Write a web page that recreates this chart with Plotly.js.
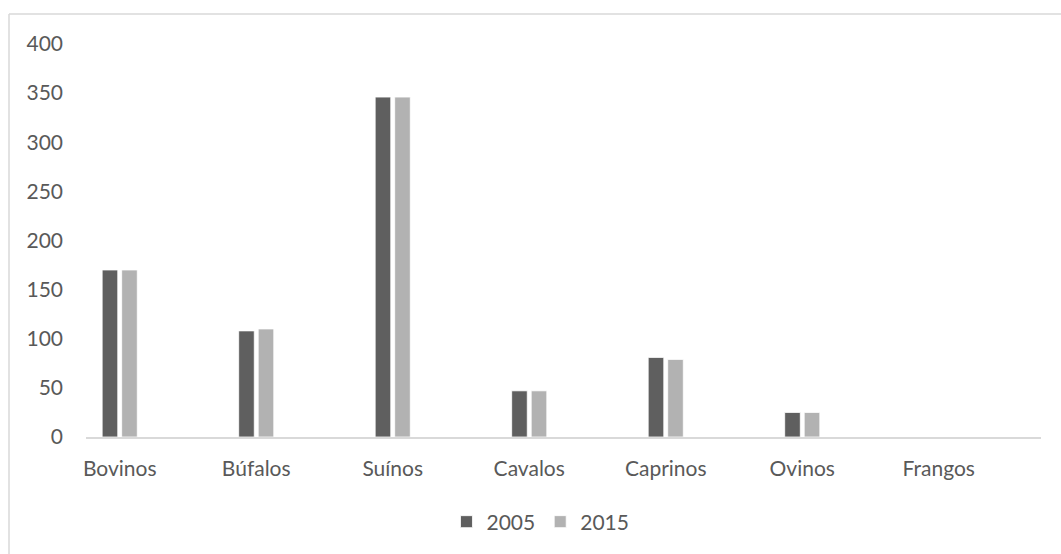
<!DOCTYPE html>
<html>
<head>
<meta charset="utf-8">
<script src="https://cdn.plot.ly/plotly-3.0.1.min.js"></script>
<style>
  html, body { margin: 0; padding: 0; background: #ffffff; }
  #chart { width: 1061px; height: 554px; }
</style>
</head>
<body>
<div id="chart"></div>
<script>
// Rebanhos por espécie, 2005 e 2015
const categories = ["Bovinos", "Búfalos", "Suínos", "Cavalos", "Caprinos", "Ovinos", "Frangos"];
const values2005 = [170, 108, 346, 47, 81, 25, 0];
const values2015 = [170, 110, 346, 47, 79, 25, 0];
const seriesNames = ["2005", "2015"];
const yTicks = [0, 50, 100, 150, 200, 250, 300, 350, 400];

const textColor = "#595959";
const frameColor = "#d9d9d9";
const font = { family: "Lato, 'Open Sans', sans-serif", size: 21, color: textColor };

const traces = [
  {
    type: "bar", name: seriesNames[0], x: categories, y: values2005,
    marker: { color: "#5f5f5f", line: { color: "#ffffff", width: 0.8 } },
    hoverinfo: "x+y+name"
  },
  {
    type: "bar", name: seriesNames[1], x: categories, y: values2015,
    marker: { color: "#b2b2b2", line: { color: "#ffffff", width: 0.8 } },
    hoverinfo: "x+y+name"
  }
];

const layout = {
  width: 1061, height: 554,
  margin: { l: 86, r: 20, t: 44, b: 116.5, pad: 0 },
  paper_bgcolor: "#ffffff", plot_bgcolor: "#ffffff",
  font: font,
  barmode: "group",
  bargap: 0.714,
  bargroupgap: 0.2,
  showlegend: true,
  legend: {
    orientation: "h", x: 0.5094, xanchor: "center", xref: "container",
    y: 32 / 554, yanchor: "middle", yref: "container",
    font: font, itemwidth: 30, tracegroupgap: 0
  },
  xaxis: {
    type: "category",
    range: [-0.247, 6.749],
    showline: true, linecolor: frameColor, linewidth: 1.5,
    showgrid: false, zeroline: false,
    ticks: "", ticklabelstandoff: 12,
    tickfont: font, fixedrange: true
  },
  yaxis: {
    range: [0, 400],
    tickvals: yTicks,
    showline: false, showgrid: false, zeroline: false,
    ticks: "", ticklabelstandoff: 22,
    tickfont: font, fixedrange: true
  },
  shapes: [
    { type: "line", xref: "paper", yref: "paper",
      x0: (9 - 86) / 955, x1: 1.1, y0: (437.5 - 14) / 393.5, y1: (437.5 - 14) / 393.5,
      line: { color: frameColor, width: 1.5 } },
    { type: "line", xref: "paper", yref: "paper",
      x0: (9 - 86) / 955, x1: (9 - 86) / 955, y0: (437.5 - 14) / 393.5, y1: -0.5,
      line: { color: frameColor, width: 1.5 } }
  ]
};

Plotly.newPlot("chart", traces, layout, { displayModeBar: false, staticPlot: true });
</script>
</body>
</html>
